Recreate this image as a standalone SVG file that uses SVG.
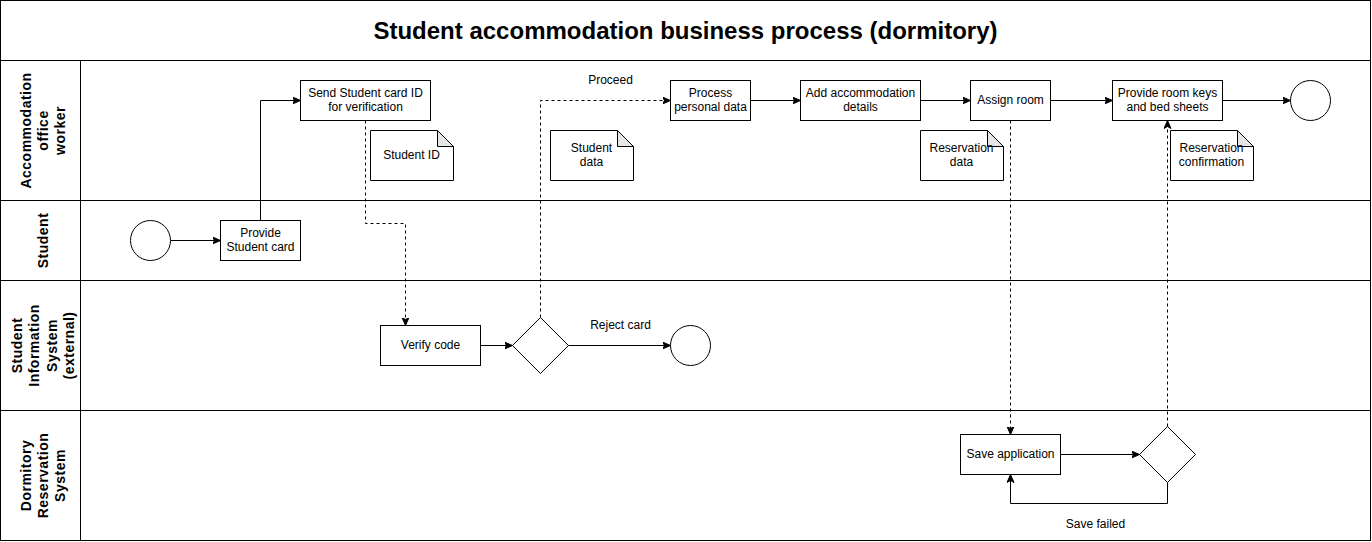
<svg xmlns="http://www.w3.org/2000/svg" width="1372" height="542" viewBox="0 0 1372 542">
<defs>
<style>
.frame{fill:none;stroke:#000;stroke-width:1}
.box{fill:#fff;stroke:#000;stroke-width:1}
.fold{fill:#e6e6e6;stroke:#000;stroke-width:1}
.t{font-family:"Liberation Sans",Arial,sans-serif;font-size:12px;fill:#000;text-anchor:middle}
.lane{font-family:"Liberation Sans",Arial,sans-serif;font-size:14px;font-weight:bold;fill:#000;text-anchor:middle;letter-spacing:0.5px}
.title{font-family:"Liberation Sans",Arial,sans-serif;font-size:24px;font-weight:bold;fill:#000;text-anchor:middle}
.e{fill:none;stroke:#000;stroke-width:1}
.d{stroke-dasharray:3 3}
</style>
<marker id="arr" markerUnits="userSpaceOnUse" markerWidth="10" markerHeight="10" refX="8" refY="3.5" orient="auto">
<path d="M0,0 L8,3.5 L0,7 L2,3.5 Z" fill="#000" stroke="#000" stroke-width="1"/>
</marker>
</defs>
<rect x="0" y="0" width="1372" height="542" fill="#fff"/>
<g transform="translate(0.5,0.5)">
<g id="pool">
<rect class="frame" x="0" y="0" width="1370" height="540"/>
<line class="frame" x1="0" y1="60" x2="1370" y2="60"/>
<line class="frame" x1="0" y1="200" x2="1370" y2="200"/>
<line class="frame" x1="0" y1="280" x2="1370" y2="280"/>
<line class="frame" x1="0" y1="410" x2="1370" y2="410"/>
<line class="frame" x1="80" y1="60" x2="80" y2="540"/>
<text class="title" x="685" y="38">Student accommodation business process (dormitory)</text>
</g>
<g id="lane-office" transform="translate(42,130) rotate(-90)">
<text class="lane" x="0" y="-12">Accommodation<tspan x="0" dy="17">office</tspan><tspan x="0" dy="17">worker</tspan></text>
</g>
<g id="lane-student" transform="translate(42,240) rotate(-90)">
<text class="lane" x="0" y="5">Student</text>
</g>
<g id="lane-sis" transform="translate(42,345) rotate(-90)">
<text class="lane" x="0" y="-21">Student<tspan x="0" dy="17.5">Information</tspan><tspan x="0" dy="17.5">System</tspan><tspan x="0" dy="17.5">(external)</tspan></text>
</g>
<g id="lane-drs" transform="translate(42,475) rotate(-90)">
<text class="lane" x="0" y="-12">Dormitory<tspan x="0" dy="17">Reservation</tspan><tspan x="0" dy="17">System</tspan></text>
</g>

<g id="connectors">
<path class="e" d="M170,240 H220" marker-end="url(#arr)"/>
<path class="e" d="M260,220 V100 H300" marker-end="url(#arr)"/>
<path class="e d" d="M365,120 V223 H405 V325" marker-end="url(#arr)"/>
<path class="e" d="M480,345 H512" marker-end="url(#arr)"/>
<path class="e" d="M568,345 H670" marker-end="url(#arr)"/>
<path class="e d" d="M540,317 V100 H670" marker-end="url(#arr)"/>
<path class="e" d="M750,100 H800" marker-end="url(#arr)"/>
<path class="e" d="M920,100 H970" marker-end="url(#arr)"/>
<path class="e" d="M1050,100 H1112" marker-end="url(#arr)"/>
<path class="e" d="M1222,100 H1290" marker-end="url(#arr)"/>
<path class="e d" d="M1010,120 V434" marker-end="url(#arr)"/>
<path class="e" d="M1060,454 H1139" marker-end="url(#arr)"/>
<path class="e" d="M1167,482 V503 H1010 V474" marker-end="url(#arr)"/>
<path class="e d" d="M1167,426 V120" marker-end="url(#arr)"/>
<text class="t" x="610" y="83">Proceed</text>
<text class="t" x="620" y="328">Reject card</text>
<text class="t" x="1095" y="527">Save failed</text>
</g>

<g id="start-student">
<circle class="box" cx="150" cy="240" r="20"/>
</g>
<g id="provide-card">
<rect class="box" x="220" y="220" width="80" height="40"/>
<text class="t" x="260" y="236">Provide<tspan x="260" dy="14">Student card</tspan></text>
</g>
<g id="send-id">
<rect class="box" x="300" y="80" width="130" height="40"/>
<text class="t" x="365" y="96">Send Student card ID<tspan x="365" dy="14">for verification</tspan></text>
</g>
<g id="note-student-id">
<path class="box" d="M370,130 H437 L453,146 V180 H370 Z"/>
<path class="fold" d="M437,130 V146 H453 Z"/>
<text class="t" x="411" y="158">Student ID</text>
</g>
<g id="verify-code">
<rect class="box" x="380" y="325" width="100" height="40"/>
<text class="t" x="430" y="348">Verify code</text>
</g>
<g id="gateway-card">
<path class="box" d="M540,317 L568,345 L540,373 L512,345 Z"/>
</g>
<g id="end-reject">
<circle class="box" cx="690" cy="345" r="20"/>
</g>
<g id="note-student-data">
<path class="box" d="M550,130 H617 L633,146 V180 H550 Z"/>
<path class="fold" d="M617,130 V146 H633 Z"/>
<text class="t" x="591" y="151">Student<tspan x="591" dy="14">data</tspan></text>
</g>
<g id="process-data">
<rect class="box" x="670" y="80" width="80" height="40"/>
<text class="t" x="710" y="96">Process<tspan x="710" dy="14">personal data</tspan></text>
</g>
<g id="add-details">
<rect class="box" x="800" y="80" width="120" height="40"/>
<text class="t" x="860" y="96">Add accommodation<tspan x="860" dy="14">details</tspan></text>
</g>
<g id="assign-room">
<rect class="box" x="970" y="80" width="80" height="40"/>
<text class="t" x="1010" y="103">Assign room</text>
</g>
<g id="note-reservation-data">
<path class="box" d="M920,130 H987 L1003,146 V180 H920 Z"/>
<path class="fold" d="M987,130 V146 H1003 Z"/>
<text class="t" x="961" y="151">Reservation<tspan x="961" dy="14">data</tspan></text>
</g>
<g id="provide-keys">
<rect class="box" x="1112" y="80" width="110" height="40"/>
<text class="t" x="1167" y="96">Provide room keys<tspan x="1167" dy="14">and bed sheets</tspan></text>
</g>
<g id="note-confirmation">
<path class="box" d="M1170,130 H1237 L1253,146 V180 H1170 Z"/>
<path class="fold" d="M1237,130 V146 H1253 Z"/>
<text class="t" x="1211" y="151">Reservation<tspan x="1211" dy="14">confirmation</tspan></text>
</g>
<g id="end-main">
<circle class="box" cx="1310" cy="100" r="20"/>
</g>
<g id="save-application">
<rect class="box" x="960" y="434" width="100" height="40"/>
<text class="t" x="1010" y="457">Save application</text>
</g>
<g id="gateway-save">
<path class="box" d="M1167,426 L1195,454 L1167,482 L1139,454 Z"/>
</g>
</g>
</svg>
